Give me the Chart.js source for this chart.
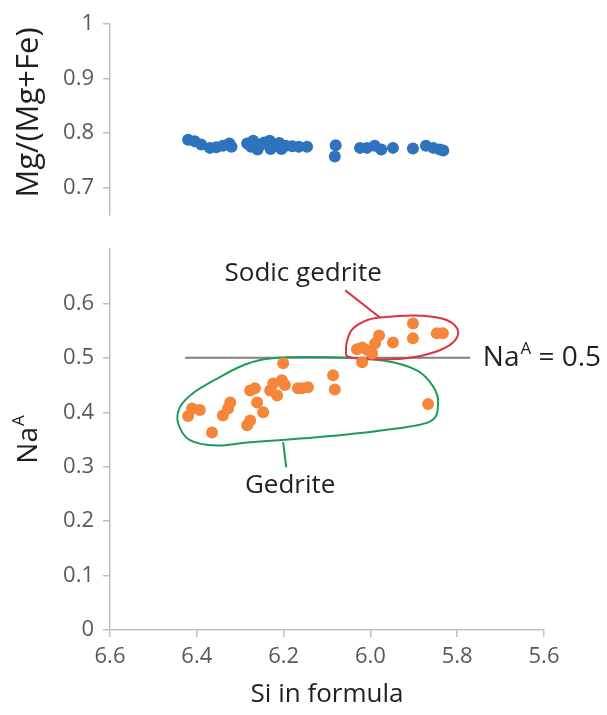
<!DOCTYPE html>
<html><head><meta charset="utf-8">
<script src="https://cdn.jsdelivr.net/npm/chart.js@4.4.1/dist/chart.umd.min.js"></script>
<style>
html,body{margin:0;padding:0;background:#fff;overflow:hidden}
#wrap{position:relative;width:607px;height:715px;background:#fff}
canvas{position:absolute;left:0}
#c1{top:0;width:607px;height:232px}
#c2{top:232px;width:607px;height:483px}
</style></head><body>
<div id="wrap"><canvas id="c1" width="607" height="232"></canvas><canvas id="c2" width="607" height="483"></canvas></div>
<script>
// ---- data ----
const siTop = [6.42,6.405,6.39,6.37,6.355,6.34,6.325,6.32,6.284,6.275,6.27,6.26,6.255,6.245,6.232,6.23,6.22,6.21,6.205,6.195,6.18,6.165,6.146,6.08,6.082,6.024,6.008,5.99,5.975,5.948,5.902,5.872,5.855,5.84,5.832];
const mgTop = [0.788,0.785,0.779,0.773,0.774,0.777,0.781,0.775,0.781,0.775,0.786,0.770,0.777,0.783,0.786,0.771,0.776,0.782,0.771,0.777,0.776,0.775,0.775,0.778,0.757,0.773,0.773,0.777,0.770,0.773,0.772,0.777,0.773,0.770,0.768];
const siBottom = [5.902,5.902,5.847,5.833,5.948,5.98,5.989,6.019,6.031,6.006,5.996,6.019,6.201,6.086,6.082,6.144,6.158,6.204,6.224,6.197,6.231,6.215,6.167,6.277,6.266,6.261,6.247,6.323,6.328,6.340,6.277,6.284,6.411,6.393,6.42,6.365,5.867];
const naBottom = [0.563,0.536,0.545,0.545,0.528,0.541,0.527,0.519,0.516,0.514,0.508,0.492,0.490,0.468,0.442,0.446,0.444,0.459,0.453,0.450,0.440,0.431,0.444,0.440,0.444,0.418,0.400,0.418,0.407,0.394,0.385,0.376,0.407,0.404,0.393,0.363,0.415];
const xTicks = [6.6,6.4,6.2,6.0,5.8,5.6];
const yTopTicks = [0.7,0.8,0.9,1];
const yBottomTicks = [0,0.1,0.2,0.3,0.4,0.5,0.6];
const naLimit = 0.5;
const naLineRange = [6.427,5.77];
// annotation outlines (Si, Na^A)
const gedriteOutline = [[6.231,0.499],[6.093,0.501],[5.971,0.495],[5.893,0.477],[5.856,0.448],[5.844,0.417],[5.863,0.383],[5.971,0.367],[6.123,0.354],[6.277,0.345],[6.353,0.339],[6.416,0.349],[6.443,0.380],[6.439,0.409],[6.409,0.435],[6.353,0.462],[6.294,0.486]];
const sodicOutline = [[6.008,0.569],[5.978,0.574],[5.902,0.578],[5.833,0.572],[5.800,0.554],[5.805,0.532],[5.840,0.514],[5.902,0.501],[5.971,0.497],[6.047,0.501],[6.056,0.514],[6.052,0.536],[6.040,0.554]];
const sodicLeader = [[5.978,0.574],[6.058,0.624]];
const gedriteLeader = [[6.201,0.345],[6.194,0.299]];
const sodicLabel = {text:'Sodic gedrite', x:6.155, y:0.655};
const gedriteLabel = {text:'Gedrite', x:6.185, y:0.266};
const limitLabel = {x:5.741, y:0.5};

const FAM = "'Open Sans', 'Noto Sans', sans-serif";
const AXIS = '#c0c0c0';
const TICKC = '#595959';
const TXT = '#231f20';
const BLUE = '#2f72bd';
const ORANGE = '#f5853a';

function xScaleOpts(show){
  return {
    type:'linear', min:5.6, max:6.6, reverse:true, display:show,
    afterBuildTicks:s=>{s.ticks = xTicks.map(v=>({value:v}));},
    afterFit:s=>{s.height = show ? 85 : 0;},
    grid:{display:true, drawOnChartArea:false, drawTicks:true, tickLength:7, color:AXIS, lineWidth:1.5},
    border:{display:true, color:AXIS, width:1.5},
    ticks:{color:TICKC, font:{family:FAM, size:22}, padding:7, callback:v=>v.toFixed(1), maxRotation:0},
    title:{display:show, text:'Si in formula', color:TXT, font:{family:FAM, size:26, lineHeight:1.2}, padding:{top:0,bottom:5}}
  };
}
function yScaleOpts(min,max,ticks){
  return {
    type:'linear', min:min, max:max,
    afterBuildTicks:s=>{s.ticks = ticks.map(v=>({value:v}));},
    afterFit:s=>{s.width = 110; s.paddingTop = 0; s.paddingBottom = 0;},
    grid:{display:true, drawOnChartArea:false, drawTicks:true, tickLength:7, color:AXIS, lineWidth:1.5},
    border:{display:true, color:AXIS, width:1.5},
    ticks:{color:TICKC, font:{family:FAM, size:22}, padding:9, callback:v=>String(Math.round(v*10)/10)},
    title:{display:false}
  };
}

function smoothClosed(ctx, pts){
  const n = pts.length;
  ctx.beginPath();
  ctx.moveTo(pts[0][0], pts[0][1]);
  for(let i=0;i<n;i++){
    const p0=pts[(i-1+n)%n], p1=pts[i], p2=pts[(i+1)%n], p3=pts[(i+2)%n];
    ctx.bezierCurveTo(p1[0]+(p2[0]-p0[0])/6, p1[1]+(p2[1]-p0[1])/6,
                      p2[0]-(p3[0]-p1[0])/6, p2[1]-(p3[1]-p1[1])/6, p2[0], p2[1]);
  }
  ctx.closePath();
}

const topTitle = {
  id:'topTitle',
  afterDraw(chart){
    const ctx = chart.ctx, ys = chart.scales.y;
    ctx.save();
    ctx.fillStyle = TXT; ctx.textAlign = 'center'; ctx.textBaseline = 'middle';
    ctx.translate(ys.left + 29, (chart.chartArea.top + chart.chartArea.bottom)/2 - 7);
    ctx.rotate(-Math.PI/2);
    ctx.font = `31px ${FAM}`;
    ctx.fillText('Mg/(Mg+Fe)', 0, 0);
    ctx.restore();
  }
};

const annotations = {
  id:'annotations',
  beforeDatasetsDraw(chart){
    const ctx = chart.ctx, xs = chart.scales.x, ys = chart.scales.y;
    const P = p => [xs.getPixelForValue(p[0]), ys.getPixelForValue(p[1])];
    ctx.save();
    ctx.strokeStyle = '#7f7f7f'; ctx.lineWidth = 2;
    ctx.beginPath();
    ctx.moveTo(xs.getPixelForValue(naLineRange[0]), ys.getPixelForValue(naLimit));
    ctx.lineTo(xs.getPixelForValue(naLineRange[1]), ys.getPixelForValue(naLimit));
    ctx.stroke();
    ctx.lineWidth = 2;
    ctx.strokeStyle = '#1f9a5c';
    smoothClosed(ctx, gedriteOutline.map(P)); ctx.stroke();
    ctx.beginPath(); const g0=P(gedriteLeader[0]), g1=P(gedriteLeader[1]);
    ctx.moveTo(g0[0],g0[1]); ctx.lineTo(g1[0],g1[1]); ctx.stroke();
    ctx.strokeStyle = '#d9343f';
    smoothClosed(ctx, sodicOutline.map(P)); ctx.stroke();
    ctx.beginPath(); const s0=P(sodicLeader[0]), s1=P(sodicLeader[1]);
    ctx.moveTo(s0[0],s0[1]); ctx.lineTo(s1[0],s1[1]); ctx.stroke();
    ctx.restore();
  },
  afterDraw(chart){
    const ctx = chart.ctx, xs = chart.scales.x, ys = chart.scales.y;
    ctx.save();
    ctx.fillStyle = TXT;
    ctx.textAlign = 'center'; ctx.textBaseline = 'middle';
    ctx.font = `26px ${FAM}`;
    ctx.fillText(sodicLabel.text, xs.getPixelForValue(sodicLabel.x), ys.getPixelForValue(sodicLabel.y));
    ctx.fillText(gedriteLabel.text, xs.getPixelForValue(gedriteLabel.x), ys.getPixelForValue(gedriteLabel.y));
    ctx.textAlign = 'left';
    let lx = xs.getPixelForValue(limitLabel.x), ly = ys.getPixelForValue(limitLabel.y);
    ctx.font = `28px ${FAM}`; ctx.fillText('Na', lx, ly); lx += ctx.measureText('Na').width;
    ctx.font = `17px ${FAM}`; ctx.fillText('A', lx+1, ly-9); lx += ctx.measureText('A').width + 1;
    ctx.font = `28px ${FAM}`; ctx.fillText(' = 0.5', lx, ly);
    const cx = ys.left + 29, cy = (chart.chartArea.top + chart.chartArea.bottom)/2;
    ctx.translate(cx, cy); ctx.rotate(-Math.PI/2);
    ctx.font = `28px ${FAM}`; const w1 = ctx.measureText('Na').width;
    ctx.font = `17px ${FAM}`; const w2 = ctx.measureText('A').width;
    const start = -(w1+w2+1)/2;
    ctx.font = `28px ${FAM}`; ctx.fillText('Na', start, 0);
    ctx.font = `17px ${FAM}`; ctx.fillText('A', start+w1+1, -10);
    ctx.restore();
  }
};

new Chart(document.getElementById('c1'), {
  type:'scatter',
  data:{datasets:[{data:siTop.map((x,i)=>({x, y:mgTop[i]})), backgroundColor:BLUE, borderWidth:0, pointRadius:6}]},
  options:{
    responsive:false, animation:false,
    layout:{padding:{left:0, right:63, top:24, bottom:17}},
    plugins:{legend:{display:false}, tooltip:{enabled:false}},
    scales:{ x:xScaleOpts(false), y:yScaleOpts(0.65,1,yTopTicks) }
  },
  plugins:[topTitle]
});

new Chart(document.getElementById('c2'), {
  type:'scatter',
  data:{datasets:[{data:siBottom.map((x,i)=>({x, y:naBottom[i]})), backgroundColor:ORANGE, borderWidth:0, pointRadius:6}]},
  options:{
    responsive:false, animation:false,
    layout:{padding:{left:0, right:63, top:17, bottom:0}},
    plugins:{legend:{display:false}, tooltip:{enabled:false}},
    scales:{ x:xScaleOpts(true), y:yScaleOpts(0,0.7,yBottomTicks) }
  },
  plugins:[annotations]
});
</script></body></html>
